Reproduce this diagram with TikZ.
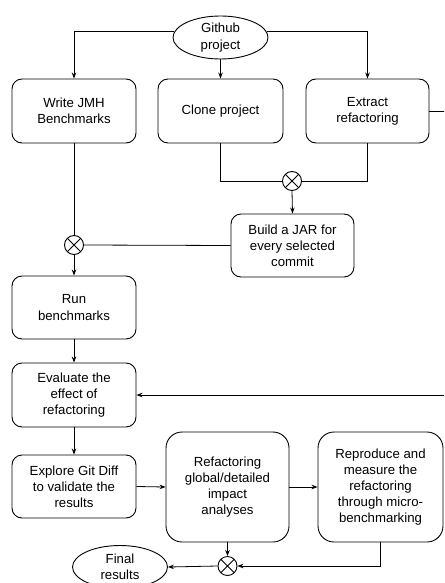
\documentclass[tikz,border=0pt]{standalone}
\usepackage{fontspec}
\setmainfont{Liberation Sans}
\usetikzlibrary{arrows.meta,shapes.geometric}
\begin{document}
\begin{tikzpicture}[x=1pt,y=-1pt,
  txt/.style={align=center, font=\fontsize{13.2}{16.2}\selectfont, inner sep=0pt},
  box/.style={txt, draw, line width=0.9pt, rounded corners=10pt},
  tallbox/.style={box, rounded corners=16pt},
  oval/.style={txt, draw, line width=0.9pt, ellipse, minimum width=95pt, minimum height=43pt},
  xnode/.style={draw, line width=0.9pt, circle, minimum size=19pt, inner sep=0pt,
    path picture={\draw[line width=0.9pt] (path picture bounding box.center) +(-7,-7) -- +(7,7) +(-7,7) -- +(7,-7);}},
  conn/.style={line width=0.8pt},
  arr/.style={conn, -{Stealth[length=6pt,width=4.5pt]}}]
\clip (0,0) rectangle (444,583);

\node[oval] (gh) at (220.5,37.5) {Github\\project};
\node[box, minimum width=124pt, minimum height=64pt] (wj) at (74,111) {Write JMH\\Benchmarks};
\node[box, minimum width=125pt, minimum height=64pt] (cl) at (220.5,111) {Clone project};
\node[box, minimum width=123pt, minimum height=64pt] (ex) at (367.5,111) {Extract\\refactoring};
\node[xnode] (c1) at (292,181) {};
\node[box, minimum width=123pt, minimum height=63pt] (bj) at (292.5,245.5) {Build a JAR for\\every selected\\commit};
\node[xnode] (c2) at (74,245) {};
\node[box, minimum width=124pt, minimum height=63pt] (run) at (74,307.5) {Run\\benchmarks};
\node[box, minimum width=124pt, minimum height=64pt] (ev) at (74,395) {Evaluate the\\effect of\\refactoring};
\node[box, minimum width=124pt, minimum height=63pt] (expl) at (74,486.5) {Explore Git Diff\\to validate the\\results};
\node[tallbox, minimum width=123pt, minimum height=110pt] (rf) at (227.5,487) {Refactoring\\global/detailed\\impact\\analyses};
\node[tallbox, minimum width=125pt, minimum height=110pt] (rp) at (380.5,487) {Reproduce and\\measure the\\refactoring\\through micro-\\benchmarking};
\node[xnode] (c3) at (227.5,566) {};
\node[oval] (fin) at (120,567) {Final\\results};
\coordinate (rt) at (452,111);

\draw[arr] (gh.173) -| (wj.north);
\draw[arr] (gh.south) -- (cl.north);
\draw[arr] (gh.7) -| (ex.north);
\draw[arr] (ex.east) -- (rt) |- (ev.east);
\draw[conn] (cl.south) |- (c1.west);
\draw[conn] (ex.south) |- (c1.east);
\draw[arr] (c1.south) -- (bj.north);
\draw[conn] (wj.south) -- (c2.north);
\draw[conn] (bj.west) -- (c2.east);
\draw[arr] (c2.south) -- (run.north);
\draw[arr] (run.south) -- (ev.north);
\draw[arr] (ev.south) -- (expl.north);
\draw[arr] (expl.east) -- (rf.west);
\draw[arr] (rf.east) -- (rp.west);
\draw[arr] (rf.south) -- (c3.north);
\draw[arr] (rp.south) |- (c3.east);
\draw[arr] (c3.west) -- (fin.east);
\end{tikzpicture}
\end{document}
